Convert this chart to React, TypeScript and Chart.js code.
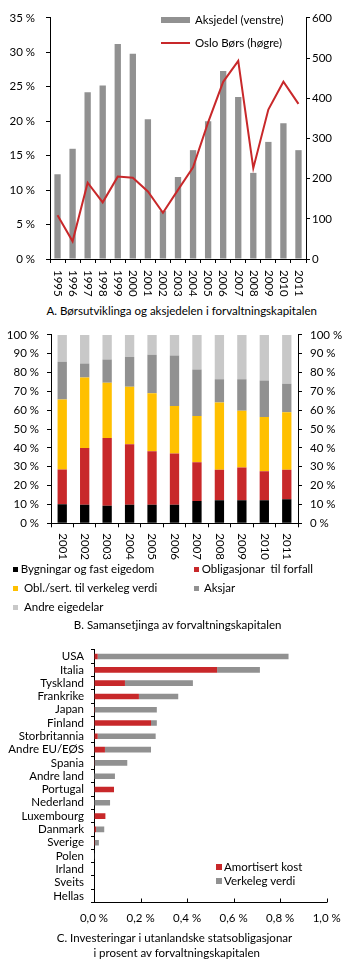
import React, { useEffect, useRef } from "react";
import { Chart, registerables } from "chart.js";

Chart.register(...registerables);

// ---------- Data ----------
const yearsA = ["1995", "1996", "1997", "1998", "1999", "2000", "2001", "2002", "2003", "2004", "2005", "2006", "2007", "2008", "2009", "2010", "2011"];
const aksjedel = [12.3, 16.0, 24.2, 25.2, 31.2, 29.8, 20.3, 7.0, 11.9, 15.8, 20.0, 27.3, 23.5, 12.5, 17.0, 19.7, 15.8];
const osloBors = [109, 44, 190, 141, 205, 202, 168, 115, 172, 228, 340, 441, 493, 226, 372, 441, 386];

const yearsB = ["2001", "2002", "2003", "2004", "2005", "2006", "2007", "2008", "2009", "2010", "2011"];
const bygningar = [10.1, 9.8, 9.3, 9.8, 9.8, 9.8, 11.9, 12.2, 12.2, 12.2, 12.8];
const oblForfall = [18.4, 30.2, 36.0, 32.2, 28.4, 27.3, 20.5, 16.2, 17.4, 15.4, 15.6];
const oblVerkeleg = [37.2, 37.4, 29.3, 30.5, 30.8, 25.1, 24.5, 35.7, 30.1, 28.8, 30.5];
const aksjar = [20.1, 7.4, 12.3, 15.8, 20.5, 26.9, 24.7, 12.4, 16.8, 19.4, 15.2];
const andre = [14.2, 15.2, 13.1, 11.7, 10.5, 10.9, 18.4, 23.5, 23.5, 24.2, 25.9];

const countries = ["USA", "Italia", "Tyskland", "Frankrike", "Japan", "Finland", "Storbritannia", "Andre EU/EØS", "Spania", "Andre land", "Portugal", "Nederland", "Luxembourg", "Danmark", "Sverige", "Polen", "Irland", "Sveits", "Hellas"];
const amortisert = [0.016, 0.529, 0.133, 0.193, 0.004, 0.245, 0.016, 0.047, 0.003, 0, 0.086, 0, 0.049, 0.009, 0.004, 0, 0, 0, 0];
const verkeleg = [0.82, 0.184, 0.292, 0.169, 0.266, 0.025, 0.249, 0.198, 0.14, 0.09, 0, 0.069, 0, 0.035, 0.017, 0.003, 0, 0, 0];

// ---------- Style ----------
const FAMILY = "Lato";
const FS = 11.5;
const RED = "#c8282a";
const GRAY = "#919191";
const LIGHT = "#c8c8c8";
const YELLOW = "#ffc000";

const rotLabels = (offset: number) => ({
  id: "rotLabels",
  afterDraw(chart: any) {
    const xs = chart.scales.x;
    const ctx = chart.ctx;
    ctx.save();
    ctx.font = `${FS}px ${FAMILY}`;
    ctx.fillStyle = "#000";
    ctx.textAlign = "left";
    ctx.textBaseline = "middle";
    (chart.data.labels as string[]).forEach((l, i) => {
      const x = xs.getPixelForValue(i);
      ctx.save();
      ctx.translate(x, xs.top + offset);
      ctx.rotate(Math.PI / 2);
      ctx.fillText(l, 0, 0);
      ctx.restore();
    });
    ctx.restore();
  },
});

const innerTicks = {
  id: "innerTicks",
  afterDraw(chart: any) {
    const xs = chart.scales.x;
    const ctx = chart.ctx;
    ctx.save();
    ctx.strokeStyle = "#000";
    ctx.lineWidth = 1;
    xs.ticks.forEach((_t: any, i: number) => {
      const x = Math.round(xs.getPixelForTick(i)) + 0.5;
      ctx.beginPath();
      ctx.moveTo(x, xs.top);
      ctx.lineTo(x, xs.top - 4);
      ctx.stroke();
    });
    ctx.restore();
  },
};

const font = { family: FAMILY, size: FS };

export default function App() {
  const refA = useRef<HTMLCanvasElement>(null);
  const refB = useRef<HTMLCanvasElement>(null);
  const refC = useRef<HTMLCanvasElement>(null);

  useEffect(() => {
    Chart.defaults.font.family = FAMILY;
    Chart.defaults.color = "#000";

    const chartA = new Chart(refA.current!, {
      type: "bar",
      data: {
        labels: yearsA,
        datasets: [
          {
            type: "line",
            label: "Oslo Børs (høgre)",
            data: osloBors,
            yAxisID: "y1",
            borderColor: RED,
            borderWidth: 2,
            pointRadius: 0,
            tension: 0,
            order: 0,
          } as any,
          {
            type: "bar",
            label: "Aksjedel (venstre)",
            data: aksjedel,
            yAxisID: "y",
            backgroundColor: GRAY,
            barPercentage: 0.42,
            categoryPercentage: 1,
            order: 1,
          },
        ],
      },
      options: {
        animation: false,
        responsive: false,
        layout: { padding: { top: 12, left: 0, right: 0, bottom: 0 } },
        plugins: { legend: { display: false }, tooltip: { enabled: false } },
        scales: {
          x: {
            grid: { drawOnChartArea: false, tickLength: 4, color: "#000", offset: true },
            border: { color: "#000" },
            ticks: { display: false },
            afterFit: (s: any) => { s.height = 41; },
          },
          y: {
            position: "left",
            min: 0,
            max: 35,
            ticks: { stepSize: 5, padding: 11, font, callback: (v: any) => `${v} %` },
            grid: { drawOnChartArea: false, tickLength: 4, color: "#000" },
            border: { color: "#000" },
            afterFit: (s: any) => { s.width = 50; },
          },
          y1: {
            position: "right",
            min: 0,
            max: 600,
            ticks: { stepSize: 100, padding: 2, font },
            grid: { drawOnChartArea: false, tickLength: 4, color: "#000" },
            border: { color: "#000" },
            afterFit: (s: any) => { s.width = 44; },
          },
        },
      },
      plugins: [rotLabels(11)],
    });

    const mk = (label: string, data: number[], color: string) => ({
      label,
      data,
      backgroundColor: color,
      barPercentage: 0.415,
      categoryPercentage: 1,
    });

    const chartB = new Chart(refB.current!, {
      type: "bar",
      data: {
        labels: yearsB,
        datasets: [
          mk("Bygningar og fast eigedom", bygningar, "#000"),
          mk("Obligasjonar  til forfall", oblForfall, RED),
          mk("Obl./sert. til verkeleg verdi", oblVerkeleg, YELLOW),
          mk("Aksjar", aksjar, GRAY),
          mk("Andre eigedelar", andre, LIGHT),
        ],
      },
      options: {
        animation: false,
        responsive: false,
        layout: { padding: { top: 13, left: 0, right: 0, bottom: 0 } },
        plugins: { legend: { display: false }, tooltip: { enabled: false } },
        scales: {
          x: {
            stacked: true,
            grid: { drawOnChartArea: false, tickLength: 4, color: "#000", offset: true },
            border: { color: "#000" },
            ticks: { display: false },
            afterFit: (s: any) => { s.height = 38.7; },
          },
          y: {
            stacked: true,
            position: "left",
            min: 0,
            max: 100,
            ticks: { stepSize: 10, padding: 8, font, callback: (v: any) => `${v} %` },
            grid: { drawOnChartArea: false, tickLength: 4, color: "#000" },
            border: { color: "#000" },
            afterFit: (s: any) => { s.width = 51; },
          },
          y1: {
            position: "right",
            min: 0,
            max: 100,
            ticks: { stepSize: 10, padding: 8, font, callback: (v: any) => `${v} %` },
            grid: { drawOnChartArea: false, tickLength: 4, color: "#000" },
            border: { color: "#000" },
            afterFit: (s: any) => { s.width = 52; },
          },
        },
      },
      plugins: [rotLabels(10)],
    });

    const chartC = new Chart(refC.current!, {
      type: "bar",
      data: {
        labels: countries,
        datasets: [
          { label: "Amortisert kost", data: amortisert, backgroundColor: RED, barPercentage: 0.42, categoryPercentage: 1 },
          { label: "Verkeleg verdi", data: verkeleg, backgroundColor: GRAY, barPercentage: 0.42, categoryPercentage: 1 },
        ],
      },
      options: {
        indexAxis: "y",
        animation: false,
        responsive: false,
        layout: { padding: { top: 6.2, left: 0, right: 23.3, bottom: 0 } },
        plugins: { legend: { display: false }, tooltip: { enabled: false } },
        scales: {
          x: {
            stacked: true,
            min: 0,
            max: 1,
            ticks: {
              stepSize: 0.2,
              padding: 5,
              font,
              callback: (v: any) => `${Number(v).toFixed(1).replace(".", ",")} %`,
            },
            grid: { drawOnChartArea: false, tickLength: 4, tickColor: "rgba(0,0,0,0)", color: "#000" },
            border: { color: "#000" },
            afterFit: (s: any) => { s.height = 29.5; },
          },
          y: {
            stacked: true,
            ticks: { padding: 7, autoSkip: false, font: { family: FAMILY, size: 11.5 } },
            grid: { drawOnChartArea: false, tickLength: 3, color: "#000", offset: true },
            border: { color: "#000" },
            afterFit: (s: any) => { s.width = 94; },
          },
        },
      },
      plugins: [innerTicks],
    });

    return () => {
      chartA.destroy();
      chartB.destroy();
      chartC.destroy();
    };
  }, []);

  const txt = (left: number, cy: number, text: string, extra: any = {}) => (
    <div
      style={{
        position: "absolute",
        left,
        top: cy - 8,
        height: 16,
        lineHeight: "16px",
        whiteSpace: "pre",
        fontFamily: FAMILY,
        fontSize: FS,
        color: "#000",
        ...extra,
      }}
    >
      {text}
    </div>
  );
  const box = (left: number, top: number, w: number, h: number, color: string) => (
    <div style={{ position: "absolute", left, top, width: w, height: h, background: color }} />
  );
  const title = (cx: number, cy: number, text: string) => (
    <div
      style={{
        position: "absolute",
        left: cx - 170,
        width: 340,
        top: cy - 8,
        height: 16,
        lineHeight: "16px",
        textAlign: "center",
        whiteSpace: "pre",
        fontFamily: FAMILY,
        fontSize: FS,
        color: "#000",
      }}
    >
      {text}
    </div>
  );

  return (
    <div style={{ position: "absolute", left: 0, top: 0, width: 350, height: 968, background: "#fff", overflow: "hidden" }}>
      <canvas ref={refA} width={350} height={300} style={{ position: "absolute", left: 0, top: 0, width: 350, height: 300 }} />
      <canvas ref={refB} width={350} height={242} style={{ position: "absolute", left: 0, top: 320, width: 350, height: 242 }} />
      <canvas ref={refC} width={350} height={296} style={{ position: "absolute", left: 0, top: 636, width: 350, height: 296 }} />

      {/* Legend A */}
      {box(161, 17, 29, 5.5, GRAY)}
      {txt(195, 20, "Aksjedel (venstre)")}
      {box(161, 42, 29, 2, RED)}
      {txt(195, 43, "Oslo Børs (høgre)")}
      {title(181.7, 311, "A. Børsutviklinga og aksjedelen i forvaltningskapitalen")}

      {/* Legend B */}
      {box(13.3, 566.5, 5, 5, "#000")}
      {txt(20.7, 569, "Bygningar og fast eigedom")}
      {box(194.3, 566.5, 5, 5, RED)}
      {txt(201.7, 569, "Obligasjonar  til forfall")}
      {box(13.3, 585.5, 5, 5, YELLOW)}
      {txt(24, 588, "Obl./sert. til verkeleg verdi")}
      {box(194.3, 585.5, 5, 5, GRAY)}
      {txt(204, 588, "Aksjar")}
      {box(13.3, 604.5, 5, 5, LIGHT)}
      {txt(24, 607, "Andre eigedelar")}
      {title(177.7, 625, "B. Samansetjinga av forvaltningskapitalen")}

      {/* Legend C */}
      {box(216, 864, 6, 6, RED)}
      {txt(224, 867, "Amortisert kost")}
      {box(216, 878, 6, 6, GRAY)}
      {txt(224, 881, "Verkeleg verdi")}
      {title(174.5, 937.7, "C. Investeringar i utanlandske statsobligasjonar")}
      {title(176.7, 953, "i prosent av forvaltningskapitalen")}
    </div>
  );
}
